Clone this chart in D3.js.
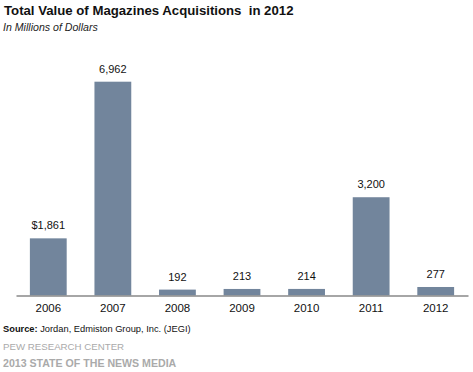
<!DOCTYPE html>
<html><head><meta charset="utf-8">
<script src="https://cdn.jsdelivr.net/npm/d3@7"></script>
<style>body{margin:0;background:#fff}svg{display:block;font-family:"Liberation Sans",Arial,sans-serif}</style>
</head><body><svg id="c" width="473" height="372"></svg>
<script>
const years = ["2006","2007","2008","2009","2010","2011","2012"];
const values = [1861, 6962, 192, 213, 214, 3200, 277];
const valueLabels = ["$1,861","6,962","192","213","214","3,200","277"];

const svg = d3.select("#c");
const x0 = 16, x1 = 468, yBase = 295.5;
const x = d3.scaleBand().domain(years).range([x0, x1]).paddingInner(0.43).paddingOuter(0.215);
const y = d3.scaleLinear().domain([0, 6962]).range([yBase, 81.7]);

svg.append("text").attr("x", 4).attr("y", 15).attr("font-size", 13.2).attr("font-weight", "bold").attr("fill", "#111")
  .attr("xml:space","preserve").text("Total Value of Magazines Acquisitions  in 2012");
svg.append("text").attr("x", 3).attr("y", 31).attr("font-size", 10.6).attr("font-style", "italic").attr("fill", "#222")
  .text("In Millions of Dollars");

svg.selectAll("rect.bar").data(values).join("rect").attr("class","bar")
  .attr("x", (d,i) => x(years[i])).attr("width", x.bandwidth())
  .attr("y", d => y(d)).attr("height", d => yBase - y(d)).attr("fill", "#72859c");

svg.selectAll("text.val").data(values).join("text").attr("class","val")
  .attr("x", (d,i) => x(years[i]) + x.bandwidth()/2).attr("y", d => y(d) - 9)
  .attr("text-anchor","middle").attr("font-size", 11).attr("fill","#111")
  .text((d,i) => valueLabels[i]);

const axis = d3.axisBottom(x).tickSize(0).tickPadding(8);
const g = svg.append("g").attr("transform", `translate(0,${yBase})`).call(axis);
g.select(".domain").attr("stroke", "#888").attr("stroke-width", 1.5);
g.selectAll("text").attr("font-size", 11.5).attr("fill", "#111").attr("font-family", "Liberation Sans, Arial, sans-serif");

svg.append("text").attr("x", 3).attr("y", 332).attr("font-size", 9.3).attr("fill", "#111")
  .html('<tspan font-weight="bold">Source:</tspan> Jordan, Edmiston Group, Inc. (JEGI)');
svg.append("text").attr("x", 3).attr("y", 350).attr("font-size", 9.7).attr("fill", "#aaa")
  .text("PEW RESEARCH CENTER");
svg.append("text").attr("x", 3).attr("y", 367).attr("font-size", 10.6).attr("font-weight","bold").attr("fill", "#aaa")
  .text("2013 STATE OF THE NEWS MEDIA");
</script></body></html>
